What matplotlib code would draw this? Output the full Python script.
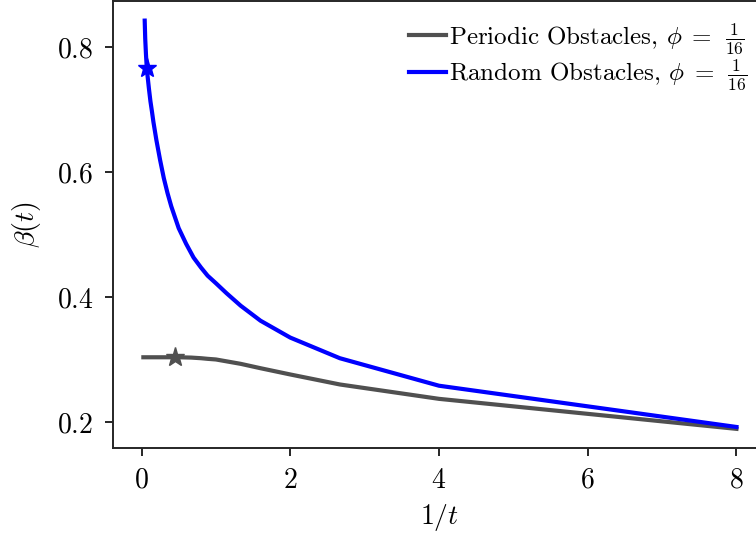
import numpy as np
import matplotlib
matplotlib.use("Agg")
import matplotlib.pyplot as plt

####################
# Data (x = 1/t)
####################
inv_t = [8.0, 4.0, 8/3, 2.0, 1.6, 4/3, 8/7, 1.0, 0.889, 0.8, 0.7, 0.6,
         0.5, 0.4, 0.35, 0.3, 0.25, 0.2, 0.16, 0.14, 0.12, 0.1, 0.08,
         0.07, 0.06, 0.05, 0.043]
beta_random = [0.192, 0.258, 0.302, 0.335, 0.362, 0.386, 0.406, 0.422,
               0.434, 0.447, 0.463, 0.485, 0.510, 0.545, 0.566, 0.590,
               0.619, 0.651, 0.680, 0.697, 0.713, 0.733, 0.755, 0.768,
               0.788, 0.813, 0.842]

inv_t_per = [8.0, 4.0, 8/3, 2.0, 1.6, 4/3, 8/7, 1.0, 0.889, 0.8, 0.667,
             0.5, 0.25, 0.1, 0.025]
beta_periodic = [0.189, 0.237, 0.260, 0.276, 0.286, 0.293, 0.297, 0.300,
                 0.301, 0.302, 0.303, 0.3035, 0.3035, 0.3035, 0.3035]

# star markers
star_periodic = (0.45, 0.304)
star_random = (0.07, 0.767)

labels = [r'Periodic Obstacles, $\phi\;=\;\,\frac{1}{16}$',
          r'Random Obstacles, $\phi\;=\;\,\frac{1}{16}$']

####################
# Style
####################
plt.rcParams['font.family'] = 'serif'
plt.rcParams['font.serif'] = ['cmr10', 'DejaVu Serif']
plt.rcParams['mathtext.fontset'] = 'cm'
plt.rcParams['axes.formatter.use_mathtext'] = True

grey = '#505050'
blue = '#0000ff'

fig = plt.figure(figsize=(7.56, 5.4), dpi=100)
ax = fig.add_axes([0.1495, 0.1704, 0.864, 0.828])

ax.plot(inv_t_per, beta_periodic, color=grey, lw=3, label=labels[0])
ax.plot(inv_t, beta_random, color=blue, lw=3, label=labels[1])
ax.plot(*star_periodic, marker='*', color=grey, ms=14, ls='none')
ax.plot(*star_random, marker='*', color=blue, ms=14, ls='none')

ax.set_xlim(-0.383, 8.4)
ax.set_ylim(0.1584, 0.8736)
ax.set_xticks([0, 2, 4, 6, 8])
ax.set_yticks([0.2, 0.4, 0.6, 0.8])

for s in ax.spines.values():
    s.set_color('#262626')
    s.set_linewidth(1.4)
ax.tick_params(axis='both', which='major', direction='out', length=6,
               width=1.4, color='#262626', labelsize=20, pad=8,
               top=False, right=False)

ax.set_xlabel(r'$1/t$', fontsize=20, labelpad=6)
ax.set_ylabel(r'$\beta(t)$', fontsize=20, labelpad=10)

ax.legend(loc='upper right', bbox_to_anchor=(750/756, 1 - 19/540),
          bbox_transform=fig.transFigure, frameon=False,
          fontsize=18, handlelength=1.5, handletextpad=0.12,
          labelspacing=0.05, borderaxespad=0, borderpad=0.1)

fig.savefig('out.png', dpi=100)
